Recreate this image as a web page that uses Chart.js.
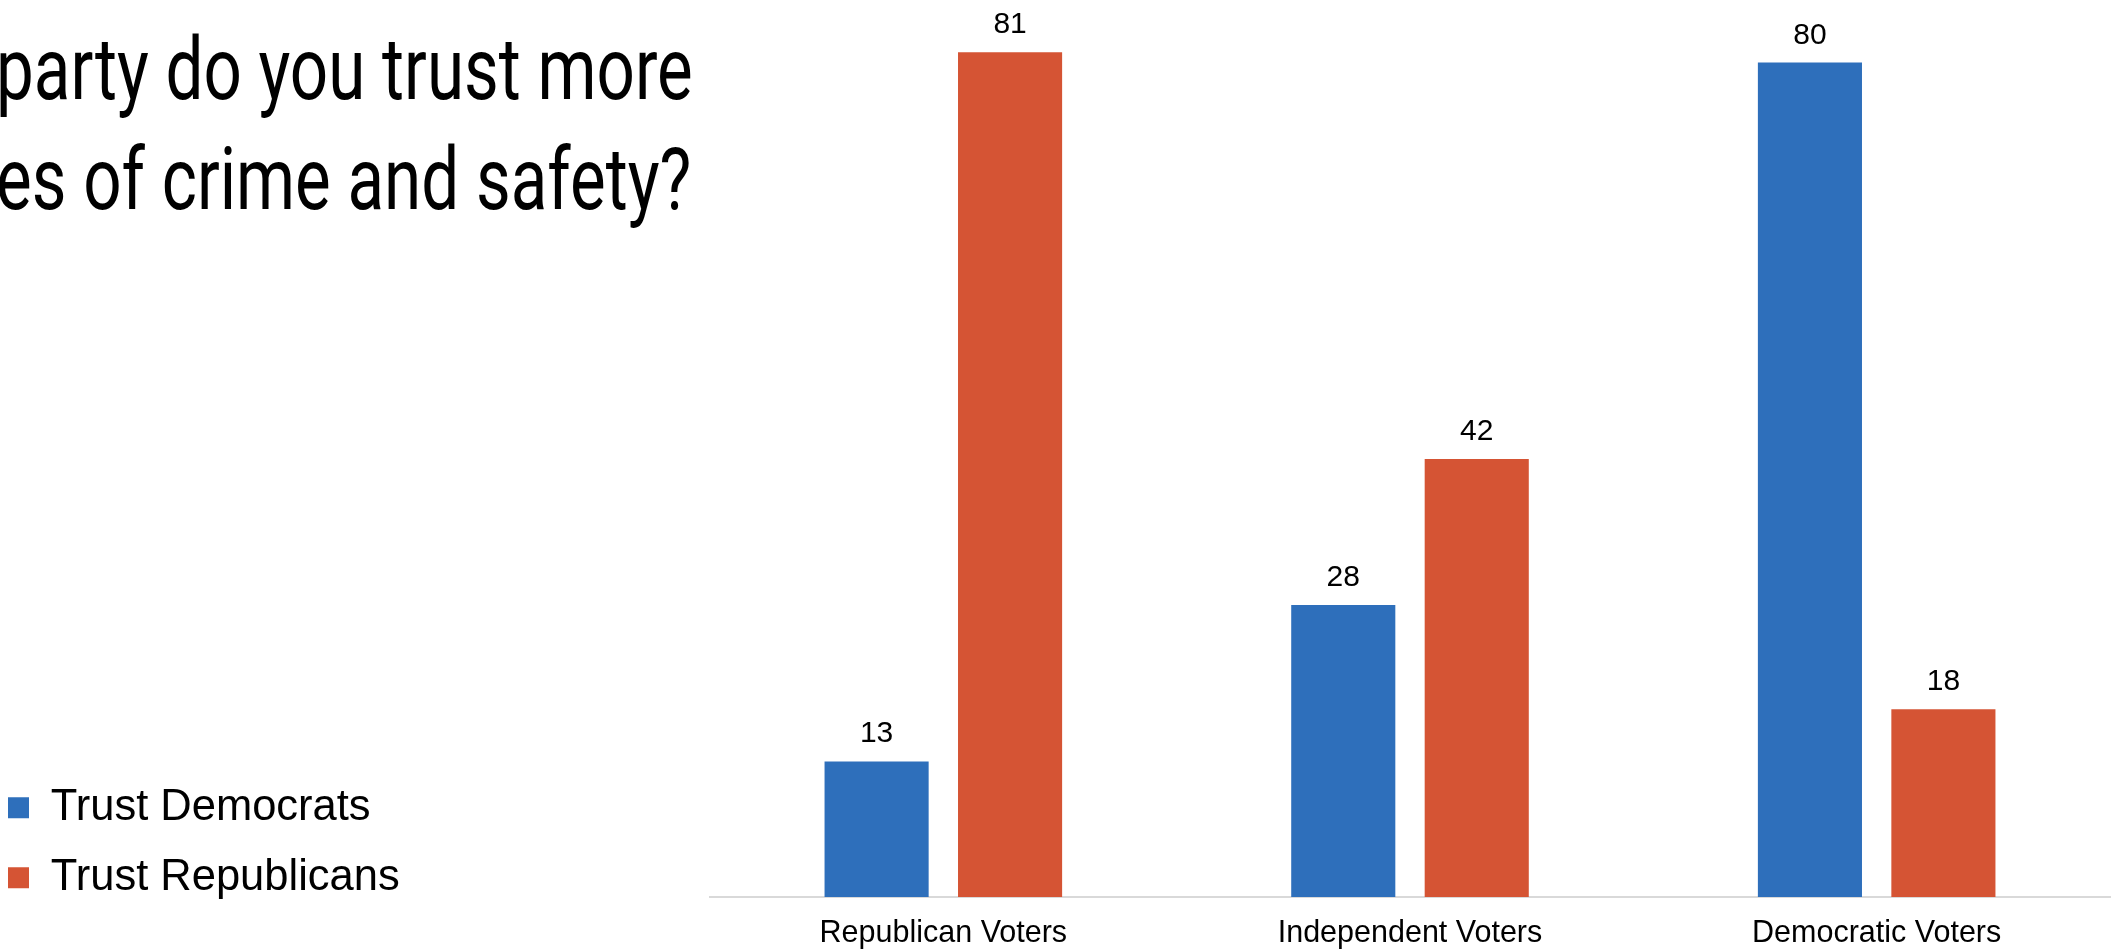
<!DOCTYPE html>
<html>
<head>
<meta charset="utf-8">
<script src="https://cdn.jsdelivr.net/npm/chart.js@4.4.0/dist/chart.umd.min.js"></script>
<style>
  body { margin: 0; background: #fff; overflow: hidden; }
  #wrap { position: relative; width: 2111px; height: 950px; }
  #grafico { position: absolute; left: 0; top: 0; }
  #titulo {
    position: absolute; left: -4px; top: 14px;
    font-family: Roboto, "Liberation Sans", sans-serif; font-weight: 400;
    font-size: 88px; line-height: 110px; color: #000;
    white-space: pre; transform-origin: 0 0; transform: scaleX(0.765);
  }
</style>
</head>
<body>
<div id="wrap">
  <canvas id="grafico" width="2111" height="950"></canvas>
  <div id="titulo">party do you trust more
es of crime and safety?</div>
</div>
<script>
// datos
const grupos = ["Republican Voters", "Independent Voters", "Democratic Voters"];
const confianzaDemocratas = [13, 28, 80];
const confianzaRepublicanos = [81, 42, 18];
const series = ["Trust Democrats", "Trust Republicans"];

const azul = "#2e6fbb";
const rojo = "#d55434";
const margenIzq = -18.5;   // la leyenda pegada al borde izquierdo
const inicioBarras = 710;  // donde empieza el area del grafico

// etiquetas de valor encima de cada barra
const etiquetasValor = {
  id: "etiquetasValor",
  afterDatasetsDraw(chart) {
    const ctx = chart.ctx;
    ctx.save();
    ctx.font = "30px 'Liberation Sans', Arial, sans-serif";
    ctx.fillStyle = "#000";
    ctx.textAlign = "center";
    ctx.textBaseline = "alphabetic";
    chart.data.datasets.forEach((ds, i) => {
      chart.getDatasetMeta(i).data.forEach((bar, j) => {
        ctx.fillText(ds.data[j], bar.x, bar.y - 19);
      });
    });
    ctx.restore();
  }
};

// la leyenda queda un poco mas arriba que el borde inferior
const subirLeyenda = {
  id: "subirLeyenda",
  afterLayout(chart) {
    chart.legend.bottom -= 24;
  }
};

const config = {
  type: "bar",
  data: {
    labels: grupos,
    datasets: [
      { label: series[0], data: confianzaDemocratas, backgroundColor: azul },
      { label: series[1], data: confianzaRepublicanos, backgroundColor: rojo }
    ]
  },
  options: {
    responsive: false,
    animation: false,
    layout: { padding: { top: 0, right: 1, bottom: 0, left: margenIzq } },
    categoryPercentage: 0.572,
    barPercentage: 0.78,
    plugins: {
      legend: {
        position: "left",
        align: "end",
        labels: {
          boxWidth: 21,
          boxHeight: 21,
          padding: 26.5,
          color: "#000",
          font: { family: "'Liberation Sans', Arial, sans-serif", size: 43.5 }
        }
      },
      tooltip: { enabled: false }
    },
    scales: {
      x: {
        grid: { display: false, drawTicks: false },
        border: { color: "#d9d9d9", width: 2 },
        ticks: {
          padding: 18,
          color: "#000",
          font: { family: "'Liberation Sans', Arial, sans-serif", size: 30.5 }
        },
        afterFit(scale) { scale.height = 53; }
      },
      y: {
        min: 0,
        max: 86,
        grid: { display: false, drawTicks: false },
        border: { display: false },
        ticks: { display: false },
        afterFit(scale) {
          const leyenda = scale.chart.legend;
          scale.width = inicioBarras - (margenIzq + (leyenda ? leyenda.width : 0));
        }
      }
    }
  },
  plugins: [etiquetasValor, subirLeyenda]
};

const ctx = document.getElementById("grafico").getContext("2d");
window.grafico = new Chart(ctx, config);
</script>
</body>
</html>
